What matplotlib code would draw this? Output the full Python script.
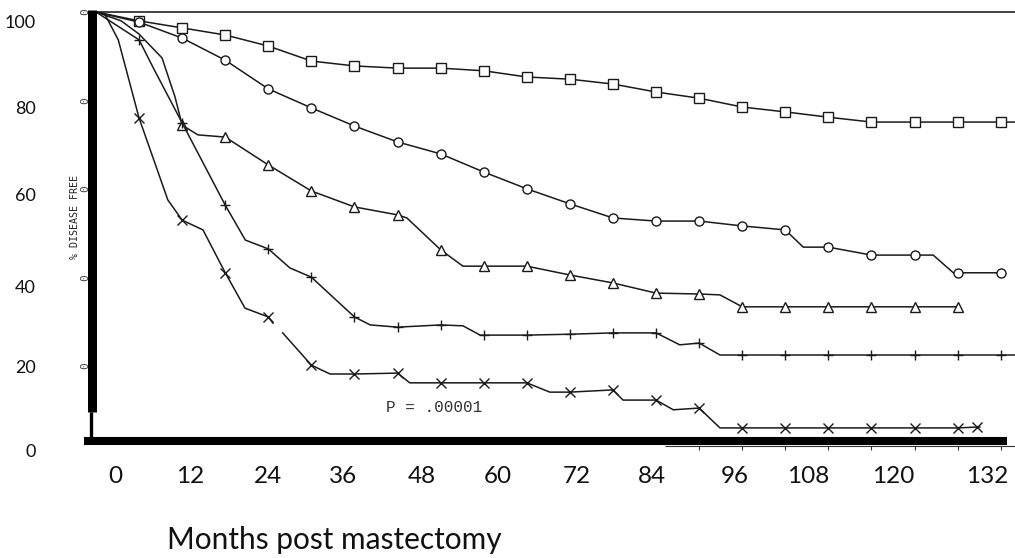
import matplotlib
matplotlib.use('Agg')
import matplotlib.pyplot as plt

# ---------------- data (months, % disease free); mk=1 -> symbol drawn ----------------
sq_m = [0, 6, 12, 18, 24, 30, 36, 42, 48, 54, 60, 66, 72, 78, 84, 90, 96, 102, 108, 114, 120, 126, 128]
sq_p = [100, 98.0, 96.4, 94.8, 92.3, 88.9, 87.8, 87.3, 87.3, 86.7, 85.3, 84.8, 83.7, 81.9, 80.5,
        78.5, 77.4, 76.2, 75.1, 75.1, 75.1, 75.1, 75.1]
sq_k = [0] + [1] * 21 + [0]

ci_m = [0, 6, 12, 18, 24, 30, 36, 42, 48, 54, 60, 66, 72, 78, 84, 90, 96, 98.5, 102, 108, 114,
        116.6, 119.4, 120, 126]
ci_p = [100, 97.7, 94.1, 89.1, 82.6, 78.3, 74.2, 70.6, 67.9, 63.8, 60.0, 56.6, 53.4, 52.7, 52.7,
        51.6, 50.7, 46.8, 46.8, 45.0, 45.0, 45.0, 41.0, 41.0, 41.0]
ci_k = [0, 1, 1, 1, 1, 1, 1, 1, 1, 1, 1, 1, 1, 1, 1, 1, 1, 0, 1, 1, 1, 0, 0, 1, 1]

tr_m = [0, 3.5, 6, 9.2, 11.0, 12, 14.2, 18, 24, 30, 36, 42, 43.3, 48, 51.1, 54, 60, 66, 72, 78, 84,
        86.9, 90, 96, 102, 108, 114, 120]
tr_p = [100, 98.0, 95.0, 89.6, 80.8, 74.4, 72.2, 71.7, 65.4, 59.5, 55.9, 54.1, 53.4, 46.2, 42.5,
        42.5, 42.5, 40.5, 38.7, 36.4, 36.2, 36.0, 33.3, 33.3, 33.3, 33.3, 33.3, 33.3]
tr_k = [0, 0, 0, 0, 0, 1, 0, 1, 1, 1, 1, 1, 0, 1, 0, 1, 1, 1, 1, 1, 1, 0, 1, 1, 1, 1, 1, 1]

pl_m = [0, 6, 7.9, 12, 18, 20.8, 24, 27.0, 30, 36, 38.2, 42, 48, 51.1, 53.5, 54, 60, 66, 72, 78,
        81.3, 84, 86.9, 90, 96, 102, 108, 114, 120, 126, 128]
pl_p = [100, 93.7, 87.6, 74.9, 56.3, 48.4, 46.4, 42.1, 40.0, 31.0, 29.2, 28.7, 29.2, 29.0, 26.9,
        26.9, 26.9, 27.1, 27.4, 27.4, 24.7, 25.1, 22.4, 22.4, 22.4, 22.4, 22.4, 22.4, 22.4, 22.4, 22.4]
pl_k = [0, 1, 0, 1, 1, 0, 1, 0, 1, 1, 0, 1, 1, 0, 0, 1, 1, 1, 1, 1, 0, 1, 0, 1, 1, 1, 1, 1, 1, 1, 0]

xx_m = [0, 1.2, 3.1, 6, 10.0, 12, 14.9, 18, 20.75, 24, 24.65, None, 26.0, 30, 32.6, 36, 42, 43.7, 48,
        54, 60, 63.2, 66, 72, 73.4, 78, 80.4, 84, 86.9, 90, 96, 102, 108, 114, 120, 122.7, 123.1]
xx_p = [100, 99.6, 93.7, 76.0, 57.5, 52.9, 50.7, 41.0, 33.0, 31.0, 29.6, None, 27.4, 20.1, 18.1, 18.1,
        18.3, 16.1, 16.1, 16.1, 16.1, 14.0, 14.0, 14.5, 12.2, 12.2, 10.0, 10.4, 5.9, 5.9, 5.9, 5.9,
        5.9, 5.9, 5.9, 6.1, 6.1]
xx_k = [0, 0, 0, 1, 0, 1, 0, 1, 0, 1, 0, 0, 0, 1, 0, 1, 1, 0, 1, 1, 1, 0, 1, 1, 0, 1, 0, 1, 0, 1, 1,
        1, 1, 1, 1, 1, 0]

x_tick_labels = ['0', '12', '24', '36', '48', '60', '72', '84', '96', '108', '120', '132']
y_tick_labels = ['100', '80', '60', '40', '20', '0']
scan_ticks = [100, 80, 60, 40, 20]
p_text = 'P = .00001'
y_title = '% DISEASE FREE'
x_title = 'Months post mastectomy'

# ---------------- layout ----------------
x_tick_at = [2.65, 13.1, 24.0, 34.4, 45.4, 56.0, 67.0, 77.4, 89.0, 99.2, 111.0, 124.1]
y_tick_at = [97.96, 78.3, 58.6, 38.0, 19.9, 0.7]

fig = plt.figure(figsize=(10.15, 5.58), dpi=100)
fig.patch.set_facecolor('white')
ax = fig.add_axes([93 / 1015, (558 - 460) / 558, 922 / 1015, 448 / 558])
ax.set_xlim(-0.418, 127.99)
ax.set_ylim(-1.357, 100.0)
ax.set_facecolor('white')

for s in ['left', 'right', 'bottom']:
    ax.spines[s].set_visible(False)
ax.spines['top'].set_linewidth(1.2)
ax.spines['top'].set_color('#222222')

lc = '#1a1a1a'
def curve(m, p, k, marker, ms):
    mx = [v if v is not None else float('nan') for v in m]
    py = [v if v is not None else float('nan') for v in p]
    idx = [i for i, f in enumerate(k) if f]
    ax.plot(mx, py, color=lc, lw=1.1, marker=marker, markevery=idx, ms=ms,
            mfc='white', mec=lc, mew=1.0, clip_on=False, zorder=3)

curve(sq_m, sq_p, sq_k, 's', 6.5)
curve(ci_m, ci_p, ci_k, 'o', 6.5)
curve(tr_m, tr_p, tr_k, '^', 6.5)
curve(pl_m, pl_p, pl_k, '+', 7.5)
curve(xx_m, xx_p, xx_k, 'x', 6.5)

# heavy axis bars drawn over the scan
ax.axvline(-0.49, ymin=0.107, ymax=1.004, lw=6.5, color='black', clip_on=False,
           solid_capstyle='butt', zorder=4)
ax.axvline(-0.70, ymin=0.042, ymax=0.107, lw=2.4, color='black', clip_on=False,
           solid_capstyle='butt', zorder=4)
ax.axhline(2.94, xmin=-0.0098, xmax=0.991, lw=5.8, color='black', clip_on=False,
           solid_capstyle='butt', zorder=4)
ax.hlines(1.81, 79.2, 128, lw=0.8, color='#333333', clip_on=False, zorder=2)
ax.vlines([84, 90, 96, 102, 108, 114, 120, 126], 1.81, 1.0, lw=0.8, color='#333333', zorder=2)

# remnants of the scanned tick labels
for v in scan_ticks:
    ax.text(-1.45, v, '0', rotation=90, fontsize=8, family='DejaVu Sans Mono',
            color='#444444', ha='center', va='center', clip_on=False)

ax.text(-2.92, 53.6, y_title, rotation=90, fontsize=7.2, family='DejaVu Sans Mono',
        color='#222222', ha='center', va='center', clip_on=False)
ax.text(47.1, 10.6, p_text, fontsize=11.5, family='Liberation Mono', color='#333333',
        ha='center', va='center')

ax.set_xticks(x_tick_at, x_tick_labels)
ax.set_yticks(y_tick_at, y_tick_labels)
ax.tick_params(axis='x', length=0, pad=4, labelsize=17.5, labelcolor='#111111')
ax.tick_params(axis='y', length=0, pad=41, labelsize=13, labelcolor='#111111')
for t in ax.get_xticklabels() + ax.get_yticklabels():
    t.set_fontfamily('Lato')

ax.set_xlabel(x_title, fontsize=21.5, family='Lato', color='#111111')
ax.xaxis.set_label_coords((334.5 - 93) / 922, -(549 - 460) / 448)
ax.xaxis.label.set_verticalalignment('baseline')

fig.savefig('out.png', dpi=100, facecolor='white')
